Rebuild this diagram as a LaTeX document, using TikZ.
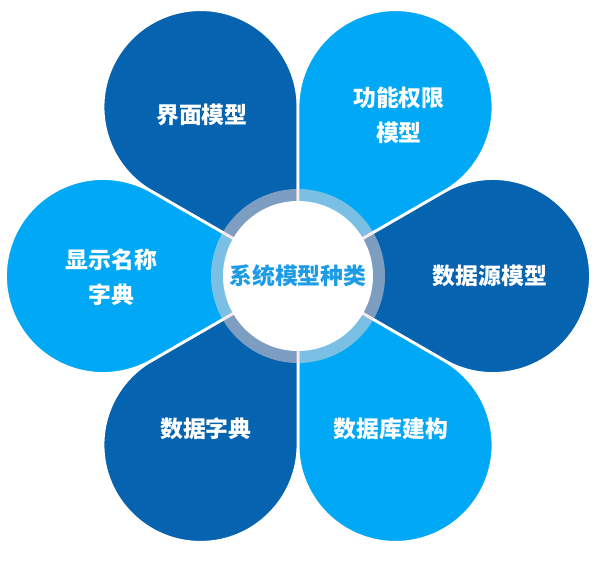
\documentclass[tikz,border=0pt]{standalone}
\usepackage{fontspec}
\newfontfamily\cjk{Noto Sans CJK SC}
\definecolor{darkpetal}{RGB}{5,99,175}
\definecolor{lightpetal}{RGB}{0,168,245}
\definecolor{titleblue}{RGB}{28,155,230}
\definecolor{ringgrey}{RGB}{245,215,212}

\begin{document}
\begin{tikzpicture}[every node/.style={align=center, font=\cjk\bfseries\fontsize{13}{20}\selectfont}, thick]

\tikzstyle{petal}=[draw=white, line width=1.6pt, line join=round]
\tikzstyle{ring}=[fill=ringgrey, opacity=0.5]
\tikzstyle{petaltext}=[text=white]

\useasboundingbox (-5.96,-5.70) rectangle (6.04,5.52);

% petals, dark and light in turn
\foreach \a/\c in {120/darkpetal, 60/lightpetal, 0/darkpetal, -60/lightpetal, -120/darkpetal, 180/lightpetal}
   \draw[petal, fill=\c] (0,0) -- (\a+30:3.377) arc[start angle=\a+120, end angle=\a-120, radius=1.95] -- cycle;

% centre
\fill[ring] (0,0) circle (1.74);
\node[circle, fill=white, minimum size=3cm, inner sep=0pt, text=titleblue] (kind) at (0,0) {系统模型种类};

\node[petaltext] (ui)     at (-1.92, 3.22) {界面模型};
\node[petaltext] (right)  at ( 2.02, 3.22) {功能权限\\模型};
\node[petaltext] (source) at ( 3.84, 0)    {数据源模型};
\node[petaltext] (build)  at ( 1.86,-3.06) {数据库建构};
\node[petaltext] (dict)   at (-1.84,-3.06) {数据字典};
\node[petaltext] (names)  at (-3.73,-0.02) {显示名称\\字典};
\end{tikzpicture}
\end{document}
